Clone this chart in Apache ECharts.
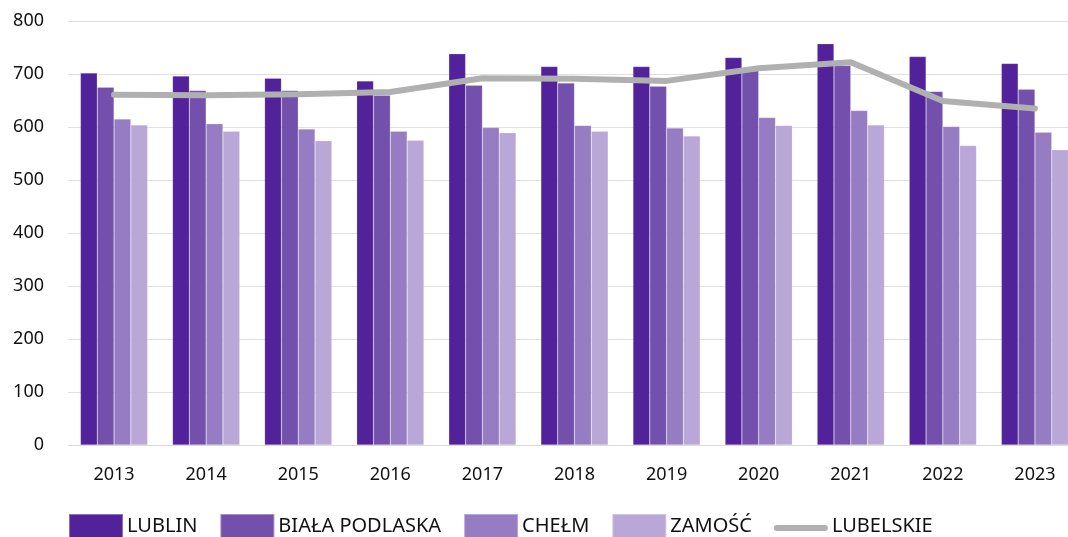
<!DOCTYPE html>
<html>
<head>
<meta charset="utf-8">
<script src="https://cdn.jsdelivr.net/npm/echarts@6/dist/echarts.min.js"></script>
<style>
html,body{margin:0;padding:0;background:#fff;}
#c{width:1068px;height:537px;}
</style>
</head>
<body>
<div id="c"></div>
<script>
const years = ['2013','2014','2015','2016','2017','2018','2019','2020','2021','2022','2023'];
const lublin = [702, 696, 692, 687, 738, 714, 714, 731, 757, 733, 720];
const bialaPodlaska = [675, 669, 669, 660, 679, 683, 677, 710, 716, 667, 671];
const chelm = [615, 606, 596, 592, 599, 603, 598, 618, 631, 601, 590];
const zamosc = [604, 592, 574, 575, 589, 592, 583, 603, 604, 565, 557];
const lubelskie = [661, 660, 662, 666, 692, 691, 687, 711, 722, 649, 635];
const yTicks = [0, 100, 200, 300, 400, 500, 600, 700, 800];

const font = '"Noto Sans", "Open Sans", sans-serif';
const lineIcon = 'path://M0,0L0.01,0L0.01,0.01Z M3,11 L51,11 A3,3 0 0 1 51,17 L3,17 A3,3 0 0 1 3,11 Z M53.99,24.99L54,24.99L54,25Z';
const chart = echarts.init(document.getElementById('c'), null, {renderer: 'canvas'});
const barSeries = (name, data, color) => ({
  name, type: 'bar', data, barGap: '0%', barCategoryGap: '27%',
  itemStyle: {color, borderColor: 'rgba(255,255,255,0.35)', borderWidth: 0.5},
  emphasis: {disabled: true}
});
chart.setOption({
  animation: false,
  textStyle: {fontFamily: font},
  grid: {left: 68, width: 1013, top: 21, bottom: 92, containLabel: false, outerBoundsMode: 'none'},
  legend: {
    top: 508, left: 63, itemWidth: 54, itemHeight: 25, itemGap: 22,
    textStyle: {fontSize: 20, color: '#111', fontFamily: font, padding: [0,0,0,-1]},
    data: [
      {name: 'LUBLIN', icon: 'rect'},
      {name: 'BIAŁA PODLASKA', icon: 'rect'},
      {name: 'CHEŁM', icon: 'rect'},
      {name: 'ZAMOŚĆ', icon: 'rect'},
      {name: 'LUBELSKIE', icon: lineIcon, itemStyle: {color: '#B0B0B0', borderWidth: 0}}
    ]
  },
  xAxis: {
    type: 'category', data: years,
    axisLine: {lineStyle: {color: '#d9d9d9'}},
    axisTick: {show: false},
    axisLabel: {fontSize: 18, color: '#111', margin: 21}
  },
  yAxis: {
    type: 'value', min: yTicks[0], max: yTicks[yTicks.length-1], interval: 100,
    axisLine: {show: false}, axisTick: {show: false},
    splitLine: {lineStyle: {color: '#e0e0e0', width: 1}},
    axisLabel: {fontSize: 18, color: '#111', margin: 24}
  },
  series: [
    barSeries('LUBLIN', lublin, '#52229A'),
    barSeries('BIAŁA PODLASKA', bialaPodlaska, '#7450AD'),
    barSeries('CHEŁM', chelm, '#967CC2'),
    barSeries('ZAMOŚĆ', zamosc, '#B9A7D7'),
    {
      name: 'LUBELSKIE', type: 'line', data: lubelskie, symbol: 'none',
      lineStyle: {color: '#B0B0B0', width: 6, cap: 'round'},
      itemStyle: {color: '#B0B0B0'}, z: 5, emphasis: {disabled: true}
    }
  ]
});
</script>
</body>
</html>
